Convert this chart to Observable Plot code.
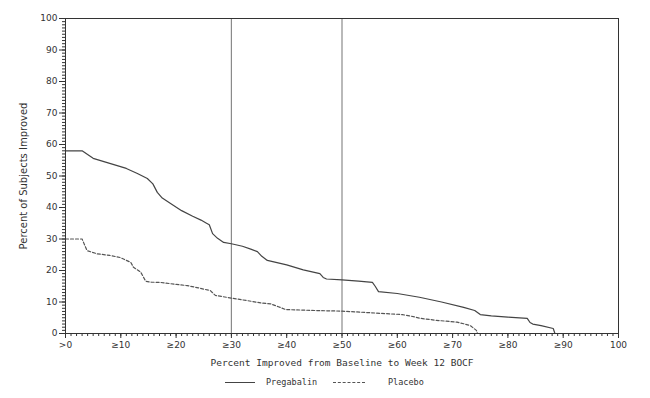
<!DOCTYPE html>
<html><head><meta charset="utf-8">
<script src="https://cdn.jsdelivr.net/npm/d3@7"></script>
<script src="https://cdn.jsdelivr.net/npm/@observablehq/plot@0.6"></script>
<style>
body{margin:0;background:#fff;}
#legend{position:relative;width:650px;height:26px;font-family:"DejaVu Sans Mono",monospace;font-size:8.5px;color:#333;}
#legend .ln{position:absolute;top:10px;height:0;border-top:1.2px solid #444;}
#legend .ln.dash{border-top:1.2px dashed #555;}
#legend .tx{position:absolute;top:4px;line-height:12px;}
</style>
</head><body>
<div id="chart"></div>
<div id="legend"></div>
<script>
const pregabalinX = [0, 3, 5, 8, 11, 13, 14.8, 15.8, 16.6, 17.5, 19, 21, 23, 24.5, 25.5, 26, 26.6, 27.5, 28.6, 30, 32, 33.5, 34.7, 35.5, 36.5, 40, 43, 46, 46.6, 47.2, 50, 53, 55.5, 56, 56.6, 60, 64, 68, 72, 74, 75, 77, 80, 83.5, 84, 84.5, 86, 88.2, 88.5];
const pregabalinY = [58, 58, 55.6, 54, 52.4, 50.8, 49.2, 47.5, 44.8, 43, 41.3, 39, 37.2, 36, 35, 34.5, 31.7, 30.2, 28.9, 28.5, 27.7, 26.8, 26, 24.5, 23.2, 21.8, 20.2, 19, 17.8, 17.3, 17, 16.6, 16.2, 15, 13.3, 12.7, 11.5, 10, 8.3, 7.3, 6, 5.6, 5.2, 4.8, 3.5, 3.0, 2.5, 1.6, 0];
const placeboX = [0, 3, 3.9, 5.7, 8, 9.9, 11.8, 12.3, 13.6, 14.5, 15.5, 17.2, 20, 22, 24, 26.2, 27.1, 30.1, 33, 35.3, 37.1, 38.5, 39.8, 45, 50, 55, 60.9, 62.5, 64.2, 67, 70.8, 72, 73.2, 74.3, 74.5];
const placeboY = [30, 30, 26.3, 25.3, 24.8, 24.1, 22.6, 21, 19.5, 16.6, 16.3, 16.2, 15.6, 15.2, 14.5, 13.6, 12.1, 11.2, 10.4, 9.7, 9.4, 8.5, 7.6, 7.3, 7.1, 6.6, 6.0, 5.5, 4.8, 4.2, 3.6, 3.1, 2.5, 1.0, 0];

const xTickValues = [0, 10, 20, 30, 40, 50, 60, 70, 80, 90, 100];
const xTickLabels = [">0", "≥10", "≥20", "≥30", "≥40", "≥50", "≥60", "≥70", "≥80", "≥90", "100"];
const yTickValues = [0, 10, 20, 30, 40, 50, 60, 70, 80, 90, 100];
const referenceLines = [30, 50];
const seriesNames = ["Pregabalin", "Placebo"];
const xTitle = "Percent Improved from Baseline to Week 12 BOCF";
const yTitle = "Percent of Subjects Improved";

const pregRows = pregabalinX.map((x, i) => ({x, y: pregabalinY[i]}));
const placRows = placeboX.map((x, i) => ({x, y: placeboY[i]}));
const minorTicks = d3.range(0, 101, 1);

const chart = Plot.plot({
  width: 650, height: 372,
  marginTop: 18, marginLeft: 65, marginRight: 32, marginBottom: 39,
  x: {domain: [0, 100]},
  y: {domain: [0, 100]},
  style: {fontFamily: "DejaVu Sans", fontSize: "9px", color: "#333", background: "#fff"},
  marks: [
    Plot.ruleX(referenceLines, {stroke: "#8a8a8a", strokeWidth: 1.2}),
    Plot.line(pregRows, {x: "x", y: "y", stroke: "#444", strokeWidth: 1.2}),
    Plot.line(placRows, {x: "x", y: "y", stroke: "#555", strokeWidth: 1.2, strokeDasharray: "3,2"}),
    Plot.frame({stroke: "#333"}),
    Plot.axisX(minorTicks, {tickSize: 3, tickFormat: () => "", label: null, stroke: "#333"}),
    Plot.axisX(xTickValues, {tickSize: 5, tickPadding: 3, tickFormat: d => xTickLabels[xTickValues.indexOf(d)], label: null, stroke: "#333"}),
    Plot.axisY(minorTicks, {tickSize: 3, tickFormat: () => "", label: null, stroke: "#333"}),
    Plot.axisY(yTickValues, {tickSize: 6, tickPadding: 2, label: null, stroke: "#333"}),
    Plot.text([xTitle], {text: d => d, frameAnchor: "bottom", dy: 32, fontFamily: "DejaVu Sans Mono", fontSize: 9.5, fill: "#333"}),
    Plot.text([yTitle], {text: d => d, frameAnchor: "left", textAnchor: "middle", dx: -42, rotate: -90, fontFamily: "DejaVu Sans", fontSize: 10, fill: "#333"})
  ]
});
document.getElementById("chart").appendChild(chart);

const legend = document.getElementById("legend");
const legendItems = [
  {name: seriesNames[0], lineLeft: 225, lineW: 30, textLeft: 266, dash: false},
  {name: seriesNames[1], lineLeft: 333, lineW: 32, textLeft: 388, dash: true}
];
for (const it of legendItems) {
  const ln = document.createElement("div");
  ln.className = "ln" + (it.dash ? " dash" : "");
  ln.style.left = it.lineLeft + "px";
  ln.style.width = it.lineW + "px";
  legend.appendChild(ln);
  const tx = document.createElement("div");
  tx.className = "tx";
  tx.style.left = it.textLeft + "px";
  tx.textContent = it.name;
  legend.appendChild(tx);
}
</script>
</body></html>
